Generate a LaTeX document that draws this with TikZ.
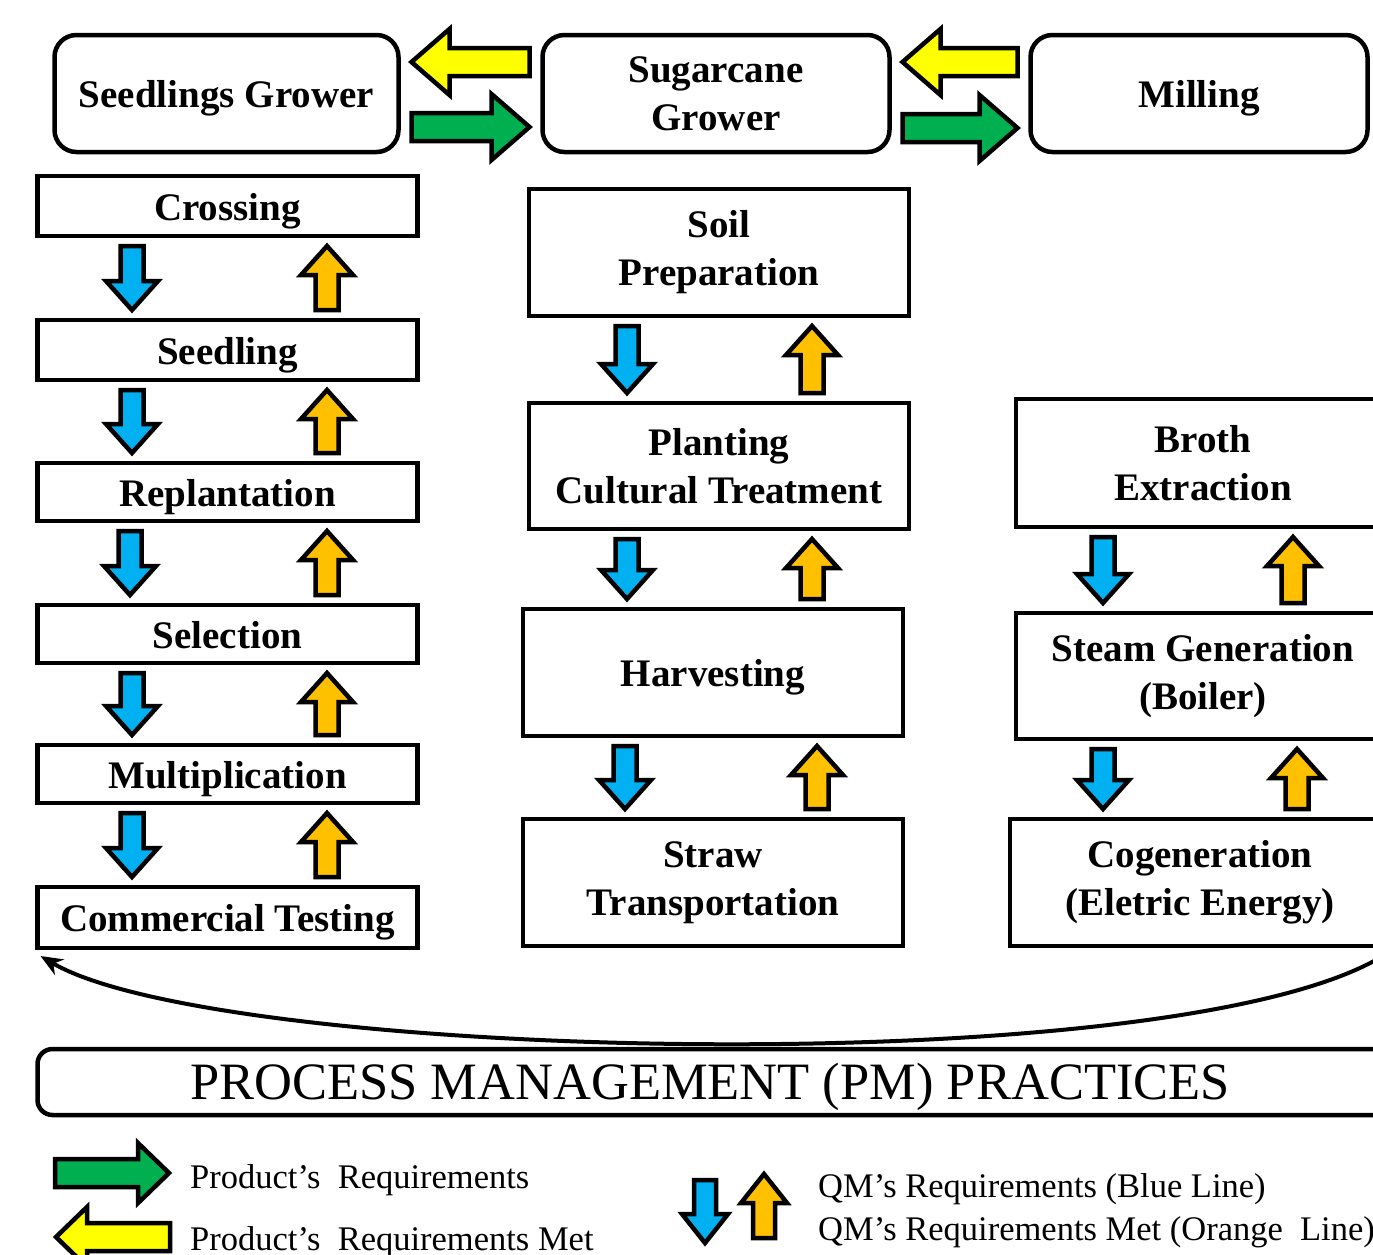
\documentclass[tikz,border=0pt]{standalone}
\usepackage{fontspec}
\setmainfont{Liberation Serif}
\usetikzlibrary{calc,arrows.meta}
\definecolor{pgreen}{HTML}{00B050}
\definecolor{pyellow}{HTML}{FFFF00}
\definecolor{qblue}{HTML}{00B0F0}
\definecolor{qorange}{HTML}{FFC000}
\newcommand\boxfont{\fontsize{39}{48}\selectfont\bfseries}
\newcommand\legfont{\fontsize{34.5}{40}\selectfont}
\newcommand\pmfont{\fontsize{52.5}{60}\selectfont}
\tikzset{
  box/.style={draw, line width=4.5pt, rectangle, align=center, inner sep=0pt, outer sep=0pt, font=\boxfont},
  oneline/.style={text height=34pt, text depth=6pt},
  rbox/.style={box, rounded corners=22pt},
  pmbox/.style={draw, line width=4.5pt, rectangle, rounded corners=15pt, inner sep=0pt, outer sep=0pt, font=\pmfont},
  blk/.style={draw=black, line width=4.5pt, line join=miter},
  legtext/.style={inner sep=0pt, font=\legfont, anchor=base west},
  backcurve/.style={draw, line width=4pt, -{Stealth[length=22pt, width=18pt]}}
}
% block arrow: fill, tail, tip, body half width, head half width, head length
\newcommand\barrow[6]{%
  \coordinate (bH) at ($(#3)!#6!(#2)$);
  \filldraw[blk, fill=#1] ($(#2)!#4!90:(#3)$) -- ($(bH)!#4!90:(#3)$) -- ($(bH)!#5!90:(#3)$) -- (#3)
    -- ($(bH)!#5!-90:(#3)$) -- ($(bH)!#4!-90:(#3)$) -- ($(#2)!#4!-90:(#3)$) -- cycle;}
% QM pair between an upper and a lower box
\newcommand\qpair[4]{%
  \coordinate (qa) at ($(#3,0 |- #1.south)+(0,10)$);
  \coordinate (qb) at ($(#3,0 |- #2.north)+(0,-10)$);
  \barrow{qblue}{qa}{qb}{11.5pt}{26pt}{29pt}
  \coordinate (qc) at ($(#4,0 |- #2.north)+(0,-10)$);
  \coordinate (qd) at ($(#4,0 |- #1.south)+(0,10)$);
  \barrow{qorange}{qc}{qd}{11.5pt}{26pt}{29pt}}
% product pair between a left and a right box
\newcommand\ppair[4]{%
  \coordinate (pa) at ($(#1.east |- 0,#3)+(13,0)$);
  \coordinate (pb) at ($(#2.west |- 0,#3)+(-13,0)$);
  \barrow{pyellow}{pb}{pa}{14pt}{33pt}{38pt}
  \coordinate (pc) at ($(#1.east |- 0,#4)+(13,0)$);
  \coordinate (pd) at ($(#2.west |- 0,#4)+(-13,0)$);
  \barrow{pgreen}{pc}{pd}{14pt}{33pt}{38pt}}
\begin{document}
\begin{tikzpicture}[x=1pt, y=-1pt]
\useasboundingbox (0,0) rectangle (1373,1254);
% top row
\node[rbox, oneline, minimum width=344pt, minimum height=117pt] (sg) at (226.5,93.5) {Seedlings Grower};
\node[rbox, minimum width=347pt, minimum height=117pt] (sc) at (716,93.5) {Sugarcane\\Grower};
\node[rbox, oneline, minimum width=337pt, minimum height=117pt] (mill) at (1199,93.5) {Milling};
% left column
\node[box, oneline, minimum width=380pt, minimum height=60pt] (cross) at (227.5,206) {Crossing};
\node[box, oneline, minimum width=380pt, minimum height=60pt] (seed) at (227.5,350) {Seedling};
\node[box, oneline, minimum width=380pt, minimum height=58pt] (repl) at (227.5,492) {Replantation};
\node[box, oneline, minimum width=380pt, minimum height=58pt] (sel) at (227.5,634) {Selection};
\node[box, oneline, minimum width=380pt, minimum height=58pt] (mult) at (227.5,774) {Multiplication};
\node[box, oneline, minimum width=380pt, minimum height=61pt] (ct) at (227.5,917.5) {Commercial Testing};
% middle column
\node[box, minimum width=380pt, minimum height=127pt] (soil) at (719,252.5) {Soil\\Preparation};
\node[box, minimum width=380pt, minimum height=126pt] (plant) at (719,466) {Planting\\Cultural Treatment};
\node[box, oneline, minimum width=380pt, minimum height=127pt] (harv) at (713,672.5) {Harvesting};
\node[box, minimum width=380pt, minimum height=127pt] (straw) at (713,882.5) {Straw\\Transportation};
% right column
\node[box, minimum width=374pt, minimum height=128pt] (broth) at (1203,463) {Broth\\Extraction};
\node[box, minimum width=374pt, minimum height=126pt] (steam) at (1203,676) {Steam Generation\\(Boiler)};
\node[box, minimum width=380pt, minimum height=127pt] (cogen) at (1200,882.5) {Cogeneration\\(Eletric Energy)};
% PM box
\node[pmbox, minimum width=1352pt, minimum height=66pt] (pm) at (713.5,1082) {};
\node[inner sep=0pt, font=\pmfont] (pmtext) at (710,1087) {PROCESS MANAGEMENT (PM) PRACTICES};
% product arrows
\ppair{sg}{sc}{62}{127}
\ppair{sc}{mill}{62}{128}
% QM arrows
\qpair{cross}{seed}{132}{327}
\qpair{seed}{repl}{132}{327}
\qpair{repl}{sel}{130}{327}
\qpair{sel}{mult}{132}{327}
\qpair{mult}{ct}{132}{327}
\qpair{soil}{plant}{627}{812}
\qpair{plant}{harv}{627}{812}
\qpair{harv}{straw}{625}{817}
\qpair{broth}{steam}{1103}{1293}
\qpair{steam}{cogen}{1103}{1297}
% feedback curve
\coordinate (cstart) at (1392,950);
\draw[backcurve] (cstart) .. controls (1200,1085) and (220,1062) .. ($(ct.south west)+(3,8)$);
% legend
\coordinate (lga) at (55,1173);
\coordinate (lgb) at (169,1173);
\barrow{pgreen}{lga}{lgb}{14pt}{30pt}{31pt}
\coordinate (lya) at (170,1237);
\coordinate (lyb) at (56,1237);
\barrow{pyellow}{lya}{lyb}{14pt}{30pt}{31pt}
\coordinate (lba) at (705,1180);
\coordinate (lbb) at (705,1243);
\barrow{qblue}{lba}{lbb}{11pt}{23pt}{29pt}
\coordinate (loa) at (764,1238);
\coordinate (lob) at (764,1174);
\barrow{qorange}{loa}{lob}{11pt}{23pt}{29pt}
\node[legtext] (l1) at (190,1188) {Product’s\ \ Requirements};
\node[legtext] (l2) at (190,1250) {Product’s\ \ Requirements Met};
\node[legtext] (l3) at (818,1197) {QM’s Requirements (Blue Line)};
\node[legtext] (l4) at (818,1240) {QM’s Requirements Met (Orange\ \ Line)};
\end{tikzpicture}
\end{document}
